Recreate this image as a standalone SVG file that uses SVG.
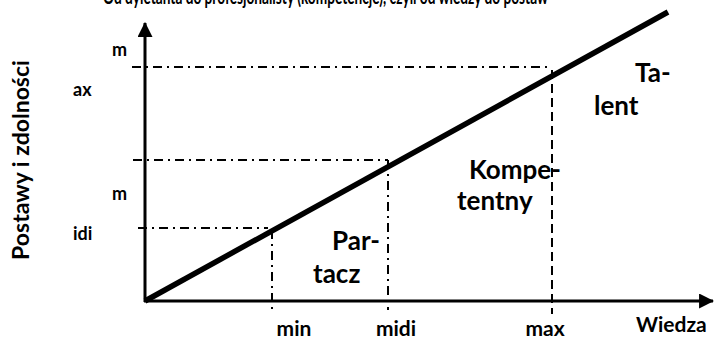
<svg xmlns="http://www.w3.org/2000/svg" width="715" height="339" viewBox="0 0 715 339">
<style>
text{font-family:Lato,"Open Sans","Liberation Sans",sans-serif;font-weight:bold;fill:#000}
.yt{font-size:18px}
.xt{font-size:21px}
.ttl{font-size:20px}
.wz{font-size:21px}
.axl{font-size:23px}
.reg{font-size:26px}
.ax{stroke:#000;stroke-width:3;fill:none}
.dd{stroke:#000;stroke-width:2;fill:none;stroke-dasharray:9 5 2 5}
.ds{stroke:#000;stroke-width:2;fill:none;stroke-dasharray:9 5}
</style>
<defs>
<marker id="ah" viewBox="0 0 14 14" refX="13" refY="7" markerWidth="15" markerHeight="15" markerUnits="userSpaceOnUse" orient="auto">
<path d="M0,0 L14,7 L0,14 Z" fill="#000"/>
</marker>
</defs>
<text class="ttl" x="103" y="3.5" textLength="445" lengthAdjust="spacingAndGlyphs">Od dyletanta do profesjonalisty (kompetencje), czyli od wiedzy do postaw</text>
<g id="connectors">
<line class="dd" x1="132" y1="67" x2="551" y2="67"/>
<line class="dd" x1="133" y1="160" x2="388" y2="160"/>
<line class="dd" x1="138" y1="228" x2="268" y2="228"/>
<line class="dd" x1="272" y1="230" x2="272" y2="310"/>
<line class="dd" x1="388" y1="160" x2="388" y2="310"/>
<line class="ds" x1="552" y1="70" x2="552" y2="314"/>
<line class="ax" x1="145" y1="302" x2="145" y2="23" marker-end="url(#ah)"/>
<line class="ax" x1="144" y1="301" x2="713" y2="301" marker-end="url(#ah)"/>
<line stroke="#000" stroke-width="5.5" stroke-linecap="butt" x1="145" y1="301" x2="668" y2="12"/>
</g>
<g id="axis-y-label"><text class="axl" transform="translate(29,160) rotate(-90)" text-anchor="middle">Postawy i zdolności</text></g>
<g id="axis-x-label"><text class="wz" x="636" y="332">Wiedza</text></g>
<g id="y-ticks">
<text class="yt" x="112" y="56">m</text>
<text class="yt" x="73" y="96">ax</text>
<text class="yt" x="112" y="200">m</text>
<text class="yt" x="73" y="240">idi</text>
</g>
<g id="x-ticks">
<text class="xt" x="294" y="336" text-anchor="middle">min</text>
<text class="xt" x="396" y="336" text-anchor="middle">midi</text>
<text class="xt" x="545" y="336" text-anchor="middle">max</text>
</g>
<g id="region-partacz">
<text class="reg" x="332" y="250">Par-</text>
<text class="reg" x="313" y="283">tacz</text>
</g>
<g id="region-kompetentny">
<text class="reg" x="469" y="179">Kompe-</text>
<text class="reg" x="457" y="210">tentny</text>
</g>
<g id="region-talent">
<text class="reg" x="635" y="82">Ta-</text>
<text class="reg" x="594" y="115">lent</text>
</g>
</svg>
